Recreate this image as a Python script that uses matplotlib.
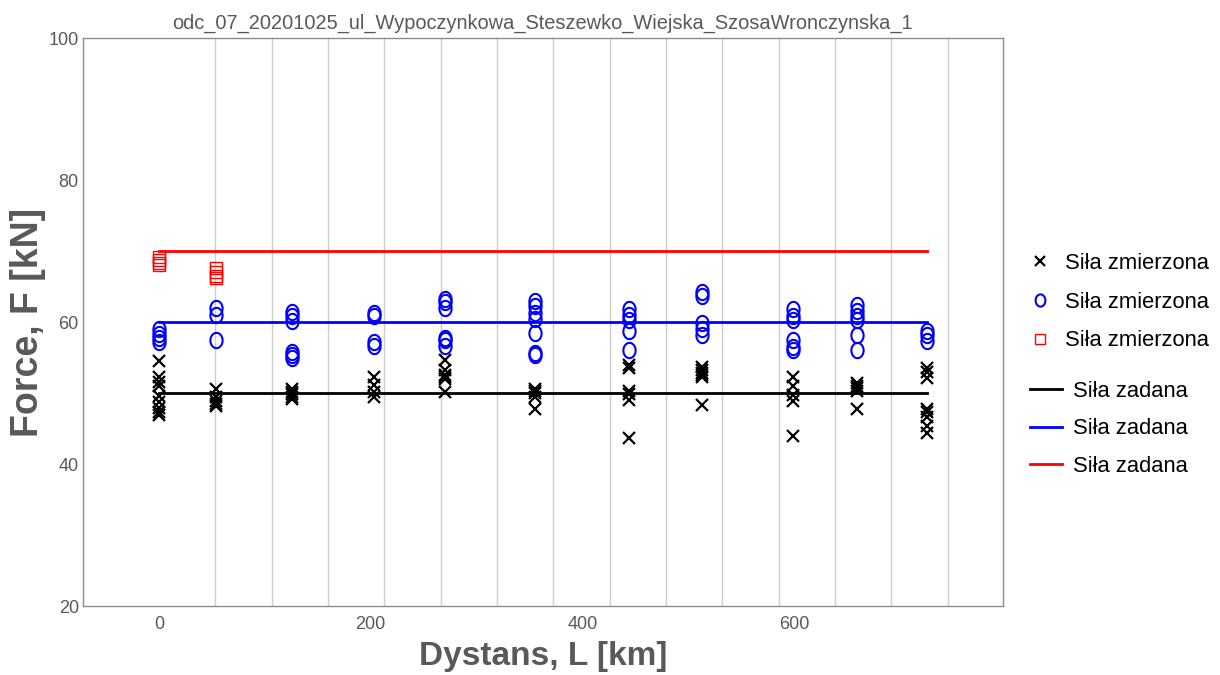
import numpy as np
import matplotlib
matplotlib.use("Agg")
import matplotlib.pyplot as plt
from matplotlib.path import Path
from matplotlib.ticker import FixedLocator

plt.rcParams['font.family'] = ['Liberation Sans', 'DejaVu Sans']

TITLE = "odc_07_20201025_ul_Wypoczynkowa_Steszewko_Wiejska_SzosaWronczynska_1"

# measurement stations along the route [km]
distance_km = [0, 54, 126, 203, 270, 355, 444, 513, 599, 659, 725]

# set-point forces [kN]
set_black = 50
set_blue = 60
set_red = 70

# measured forces at each station [kN]
meas_black = [
    [54.5, 52.2, 51.6, 51.0, 49.6, 48.8, 47.9, 47.3, 46.9],
    [50.6, 49.4, 48.9, 48.4, 48.2],
    [50.6, 50.2, 49.8, 49.4, 49.2],
    [52.2, 51.1, 50.2, 49.4],
    [54.6, 53.2, 52.6, 52.3, 52.0, 50.1],
    [50.6, 50.3, 50.0, 49.4, 47.8],
    [54.0, 53.5, 50.3, 49.8, 49.0, 43.6],
    [53.7, 53.2, 52.8, 52.5, 52.2, 48.3],
    [52.2, 51.0, 49.7, 48.9, 44.0],
    [51.4, 51.0, 50.7, 50.3, 47.7],
    [53.5, 53.0, 52.1, 47.8, 47.3, 46.6, 45.4, 44.3],
]
meas_blue = [
    [59.0, 58.3, 57.7, 57.2],
    [62.0, 61.0, 57.4],
    [61.4, 60.8, 60.2, 55.8, 55.3, 54.9],
    [61.2, 60.8, 57.2, 56.6],
    [63.3, 62.8, 62.0, 57.8, 57.4, 56.6],
    [63.0, 62.2, 61.3, 60.4, 58.4, 55.6, 55.3],
    [61.8, 61.0, 60.3, 58.8, 56.1],
    [64.2, 63.6, 59.9, 59.0, 58.2],
    [61.8, 60.9, 60.3, 57.4, 56.5, 56.0],
    [62.4, 61.5, 60.9, 60.3, 58.1, 56.1],
    [58.8, 58.2, 57.3],
]
red_stations = [0, 54]
meas_red = [
    [69.1, 68.7, 68.3, 68.0],
    [67.6, 67.0, 66.5, 66.2],
]


def flatten(stations, groups):
    xs, ys = [], []
    for s, g in zip(stations, groups):
        xs.extend([s] * len(g))
        ys.extend(g)
    return xs, ys


# slightly tall ellipse used for the blue measurements
t = np.linspace(0, 2 * np.pi, 60)
ellipse = Path(np.column_stack([0.8 * np.cos(t), np.sin(t)]), closed=True)

GREY = '#595959'
fig = plt.figure(figsize=(12.2, 6.75), dpi=100)
ax = fig.add_axes([0.068, 0.1022, 0.754, 0.8415])

xb, yb = flatten(distance_km, meas_black)
xu, yu = flatten(distance_km, meas_blue)
xr, yr = flatten(red_stations, meas_red)

h_meas = []
h_meas += ax.plot(xb, yb, ls='none', marker='x', color='black', ms=8.5, mew=1.6,
                  label='Siła zmierzona', zorder=4)
h_meas += ax.plot(xu, yu, ls='none', marker=ellipse, mfc='none', mec='#0000ff', ms=11,
                  mew=1.5, label='Siła zmierzona', zorder=4)
h_meas += ax.plot(xr, yr, ls='none', marker='s', mfc='none', mec='#ff0000', ms=9,
                  mew=1.0, label='Siła zmierzona', zorder=4)

x0, x1 = distance_km[0], distance_km[-1]
h_set = []
h_set += ax.plot([x0, x1], [set_black] * 2, color='black', lw=2, label='Siła zadana', zorder=3)
h_set += ax.plot([x0, x1], [set_blue] * 2, color='#0000ff', lw=2, label='Siła zadana', zorder=3)
h_set += ax.plot([x0, x1], [set_red] * 2, color='#ff0000', lw=2, label='Siła zadana', zorder=3)

ax.set_xlim(-71.8, 797)
ax.set_ylim(20, 100)
ax.set_xticks([0, 200, 400, 600])
ax.set_yticks([20, 40, 60, 80, 100])
ax.xaxis.set_minor_locator(FixedLocator(np.arange(0, 760, 53.2)))
ax.yaxis.set_minor_locator(FixedLocator([40, 60, 80]))
ax.grid(False)
ax.grid(True, which='minor', color='#cccccc', lw=1.0, zorder=0)
ax.tick_params(which='both', length=0, labelsize=13, labelcolor=GREY)
ax.tick_params(axis='x', pad=7)
ax.tick_params(axis='y', pad=3)

for sp in ax.spines.values():
    sp.set_color('#8c8c8c')
    sp.set_linewidth(1.0)

ax.set_title(TITLE, fontsize=14.4, color=GREY, pad=7)
ax.set_xlabel('Dystans, L [km]', fontsize=24, fontweight='bold', color=GREY, labelpad=6)
ax.set_ylabel('Force, F [kN]', fontsize=27, fontweight='bold', color=GREY, labelpad=2)

FS = 15.8
leg1 = fig.legend(handles=h_meas, loc='center left', bbox_to_anchor=(1029 / 1220, 1 - 302 / 675),
                  frameon=False, fontsize=FS, labelspacing=0.82, handlelength=1.0,
                  handletextpad=0.64, borderpad=0, borderaxespad=0, markerscale=0.8)
leg2 = fig.legend(handles=h_set, loc='center left', bbox_to_anchor=(1030 / 1220, 1 - 429 / 675),
                  frameon=False, fontsize=FS, labelspacing=0.75, handlelength=1.46,
                  handletextpad=0.5, borderpad=0, borderaxespad=0)

fig.savefig('out.png', dpi=100)
